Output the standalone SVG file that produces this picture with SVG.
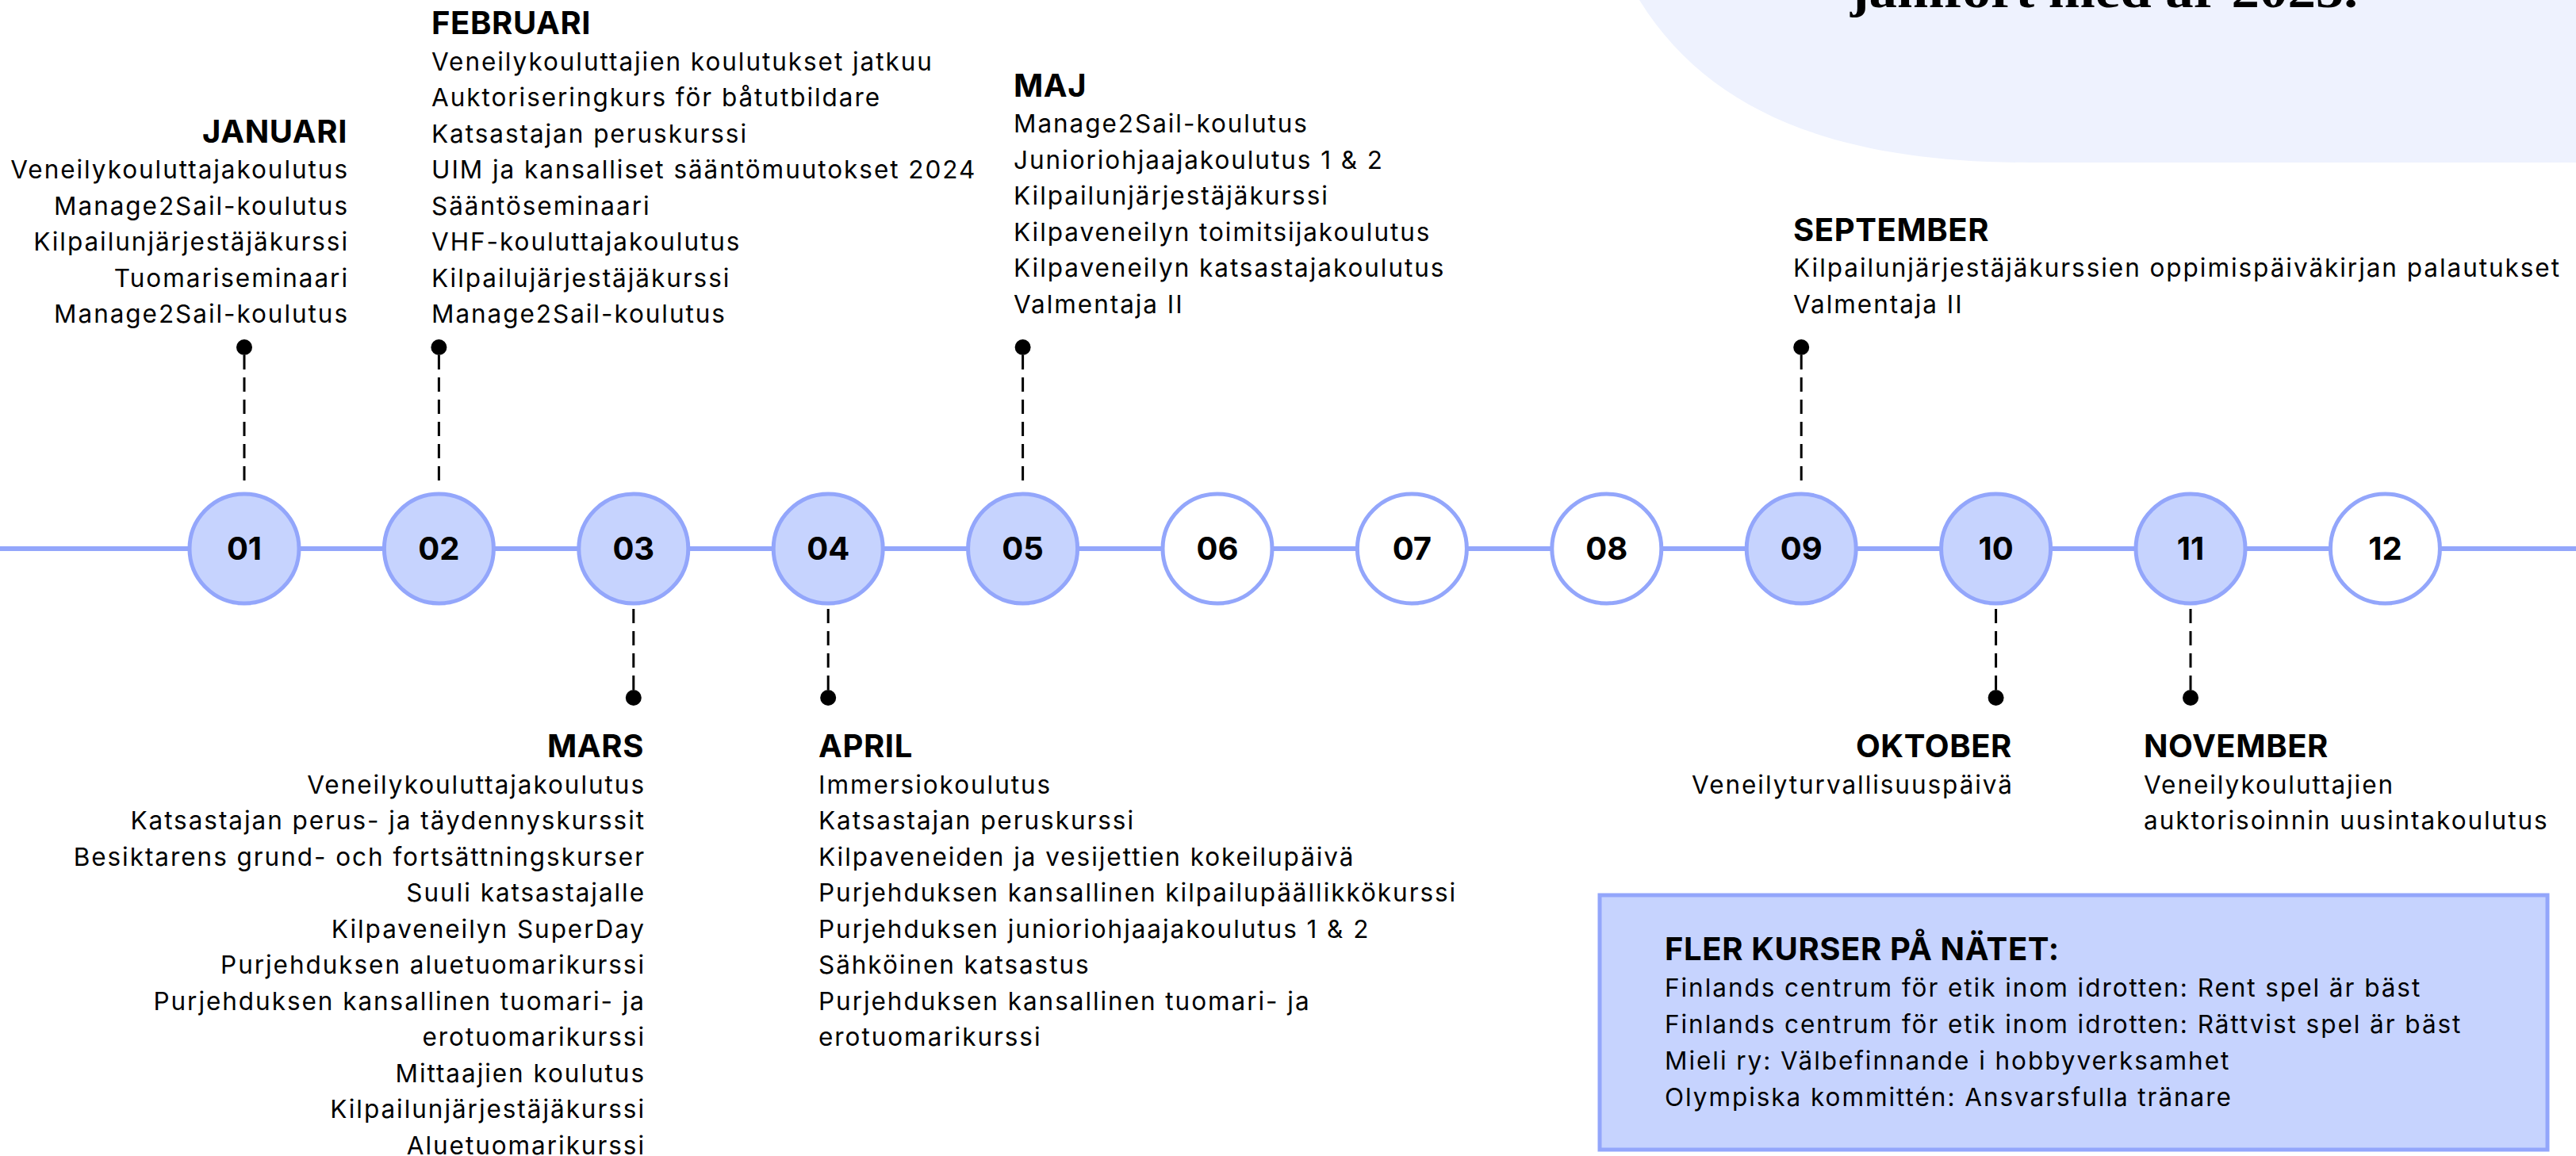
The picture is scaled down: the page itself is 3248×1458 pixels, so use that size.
<svg xmlns="http://www.w3.org/2000/svg" width="3248" height="1458" viewBox="0 0 3248 1458">
<style>
.b{font-family:Inter,"Noto Sans","Liberation Sans",sans-serif;font-size:31.5px;letter-spacing:1.95px;fill:#000}
.h{font-family:Inter,"Noto Sans","Liberation Sans",sans-serif;font-size:40px;font-weight:700;letter-spacing:0.6px;fill:#000}
.num{font-family:Inter,"Noto Sans","Liberation Sans",sans-serif;font-size:40px;font-weight:700;fill:#000;text-anchor:middle}
.on{fill:#c6d3fe;stroke:#93a6fb;stroke-width:5}
.off{fill:#ffffff;stroke:#93a6fb;stroke-width:5}
.dash{stroke:#000;stroke-width:3;stroke-dasharray:18 10;fill:none}
.dot{fill:#000}
.end{text-anchor:end}
</style>
<rect width="3248" height="1458" fill="#ffffff"/>
<g id="blob">
<path d="M2067 0 C2160 150 2330 205 2560 205 L3248 205 L3248 0 Z" fill="#eef2fe"/>
<text x="2653" y="9" text-anchor="middle" font-family="'Liberation Serif',serif" font-weight="700" font-size="62" textLength="640" lengthAdjust="spacingAndGlyphs" fill="#000">jämfört med år 2025.</text>
</g>
<g id="timeline">
<line x1="0" y1="692" x2="3248" y2="692" stroke="#93a6fb" stroke-width="6"/>
</g>
<g id="connectors">
<line class="dash" x1="308" y1="448" x2="308" y2="616"/><circle class="dot" cx="308" cy="438" r="10"/>
<line class="dash" x1="553.4" y1="448" x2="553.4" y2="616"/><circle class="dot" cx="553.4" cy="438" r="10"/>
<line class="dash" x1="1289.6" y1="448" x2="1289.6" y2="616"/><circle class="dot" cx="1289.6" cy="438" r="10"/>
<line class="dash" x1="2271.2" y1="448" x2="2271.2" y2="616"/><circle class="dot" cx="2271.2" cy="438" r="10"/>
<line class="dash" x1="798.8" y1="768" x2="798.8" y2="872"/><circle class="dot" cx="798.8" cy="880" r="10"/>
<line class="dash" x1="1044.2" y1="768" x2="1044.2" y2="872"/><circle class="dot" cx="1044.2" cy="880" r="10"/>
<line class="dash" x1="2516.6" y1="768" x2="2516.6" y2="872"/><circle class="dot" cx="2516.6" cy="880" r="10"/>
<line class="dash" x1="2762" y1="768" x2="2762" y2="872"/><circle class="dot" cx="2762" cy="880" r="10"/>
</g>
<g id="m01"><circle class="on" cx="308" cy="692" r="69"/><text class="num" x="308" y="706">01</text></g>
<g id="m02"><circle class="on" cx="553.4" cy="692" r="69"/><text class="num" x="553.4" y="706">02</text></g>
<g id="m03"><circle class="on" cx="798.8" cy="692" r="69"/><text class="num" x="798.8" y="706">03</text></g>
<g id="m04"><circle class="on" cx="1044.2" cy="692" r="69"/><text class="num" x="1044.2" y="706">04</text></g>
<g id="m05"><circle class="on" cx="1289.6" cy="692" r="69"/><text class="num" x="1289.6" y="706">05</text></g>
<g id="m06"><circle class="off" cx="1535" cy="692" r="69"/><text class="num" x="1535" y="706">06</text></g>
<g id="m07"><circle class="off" cx="1780.4" cy="692" r="69"/><text class="num" x="1780.4" y="706">07</text></g>
<g id="m08"><circle class="off" cx="2025.8" cy="692" r="69"/><text class="num" x="2025.8" y="706">08</text></g>
<g id="m09"><circle class="on" cx="2271.2" cy="692" r="69"/><text class="num" x="2271.2" y="706">09</text></g>
<g id="m10"><circle class="on" cx="2516.6" cy="692" r="69"/><text class="num" x="2516.6" y="706">10</text></g>
<g id="m11"><circle class="on" cx="2762" cy="692" r="69"/><text class="num" x="2762" y="706">11</text></g>
<g id="m12"><circle class="off" cx="3007.4" cy="692" r="69"/><text class="num" x="3007.4" y="706">12</text></g>

<g id="januari">
<text class="h end" x="438" y="180">JANUARI</text>
<text class="b end" x="440" y="225">Veneilykouluttajakoulutus</text>
<text class="b end" x="440" y="270.5">Manage2Sail-koulutus</text>
<text class="b end" x="440" y="316">Kilpailunjärjestäjäkurssi</text>
<text class="b end" x="440" y="361.5">Tuomariseminaari</text>
<text class="b end" x="440" y="407">Manage2Sail-koulutus</text>
</g>
<g id="februari">
<text class="h" x="544" y="43">FEBRUARI</text>
<text class="b" x="544" y="88.5">Veneilykouluttajien koulutukset jatkuu</text>
<text class="b" x="544" y="134">Auktoriseringkurs för båtutbildare</text>
<text class="b" x="544" y="179.5">Katsastajan peruskurssi</text>
<text class="b" x="544" y="225">UIM ja kansalliset sääntömuutokset 2024</text>
<text class="b" x="544" y="270.5">Sääntöseminaari</text>
<text class="b" x="544" y="316">VHF-kouluttajakoulutus</text>
<text class="b" x="544" y="361.5">Kilpailujärjestäjäkurssi</text>
<text class="b" x="544" y="407">Manage2Sail-koulutus</text>
</g>
<g id="maj">
<text class="h" x="1278" y="121.5">MAJ</text>
<text class="b" x="1278" y="167">Manage2Sail-koulutus</text>
<text class="b" x="1278" y="212.5">Junioriohjaajakoulutus 1 &amp; 2</text>
<text class="b" x="1278" y="258">Kilpailunjärjestäjäkurssi</text>
<text class="b" x="1278" y="303.5">Kilpaveneilyn toimitsijakoulutus</text>
<text class="b" x="1278" y="349">Kilpaveneilyn katsastajakoulutus</text>
<text class="b" x="1278" y="394.5">Valmentaja II</text>
</g>
<g id="september">
<text class="h" x="2261" y="303.5">SEPTEMBER</text>
<text class="b" x="2261" y="349">Kilpailunjärjestäjäkurssien oppimispäiväkirjan palautukset</text>
<text class="b" x="2261" y="394.5">Valmentaja II</text>
</g>
<g id="mars">
<text class="h end" x="812" y="955">MARS</text>
<text class="b end" x="814" y="1000.5">Veneilykouluttajakoulutus</text>
<text class="b end" x="814" y="1046">Katsastajan perus- ja täydennyskurssit</text>
<text class="b end" x="814" y="1091.5">Besiktarens grund- och fortsättningskurser</text>
<text class="b end" x="814" y="1137">Suuli katsastajalle</text>
<text class="b end" x="814" y="1182.5">Kilpaveneilyn SuperDay</text>
<text class="b end" x="814" y="1228">Purjehduksen aluetuomarikurssi</text>
<text class="b end" x="814" y="1273.5">Purjehduksen kansallinen tuomari- ja</text>
<text class="b end" x="814" y="1319">erotuomarikurssi</text>
<text class="b end" x="814" y="1364.5">Mittaajien koulutus</text>
<text class="b end" x="814" y="1410">Kilpailunjärjestäjäkurssi</text>
<text class="b end" x="814" y="1455.5">Aluetuomarikurssi</text>
</g>
<g id="april">
<text class="h" x="1032" y="955">APRIL</text>
<text class="b" x="1032" y="1000.5">Immersiokoulutus</text>
<text class="b" x="1032" y="1046">Katsastajan peruskurssi</text>
<text class="b" x="1032" y="1091.5">Kilpaveneiden ja vesijettien kokeilupäivä</text>
<text class="b" x="1032" y="1137">Purjehduksen kansallinen kilpailupäällikkökurssi</text>
<text class="b" x="1032" y="1182.5">Purjehduksen junioriohjaajakoulutus 1 &amp; 2</text>
<text class="b" x="1032" y="1228">Sähköinen katsastus</text>
<text class="b" x="1032" y="1273.5">Purjehduksen kansallinen tuomari- ja</text>
<text class="b" x="1032" y="1319">erotuomarikurssi</text>
</g>
<g id="oktober">
<text class="h end" x="2537" y="955">OKTOBER</text>
<text class="b end" x="2539" y="1000.5">Veneilyturvallisuuspäivä</text>
</g>
<g id="november">
<text class="h" x="2703" y="955">NOVEMBER</text>
<text class="b" x="2703" y="1000.5">Veneilykouluttajien</text>
<text class="b" x="2703" y="1046">auktorisoinnin uusintakoulutus</text>
</g>
<g id="online">
<rect x="2017" y="1129" width="1195" height="321" fill="#c6d3fe" stroke="#93a6fb" stroke-width="5"/>
<text class="h" x="2099" y="1210.5">FLER KURSER PÅ NÄTET:</text>
<text class="b" x="2099" y="1256.5">Finlands centrum för etik inom idrotten: Rent spel är bäst</text>
<text class="b" x="2099" y="1302.5">Finlands centrum för etik inom idrotten: Rättvist spel är bäst</text>
<text class="b" x="2099" y="1348.5">Mieli ry: Välbefinnande i hobbyverksamhet</text>
<text class="b" x="2099" y="1394.5">Olympiska kommittén: Ansvarsfulla tränare</text>
</g>
</svg>
